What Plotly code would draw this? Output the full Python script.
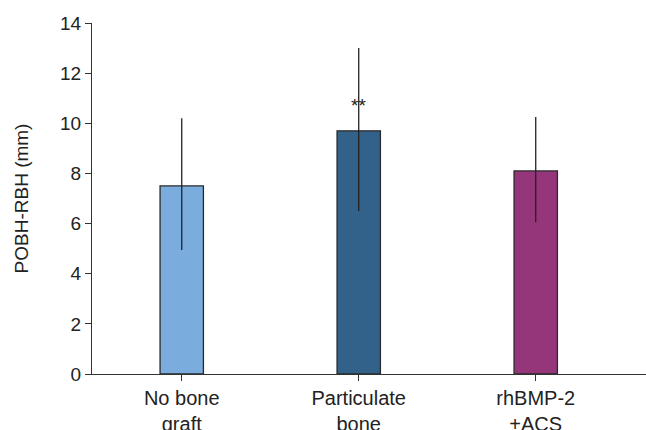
import plotly.graph_objects as go

categories = ["No bone<br>graft", "Particulate<br>bone", "rhBMP-2<br>+ACS"]
means = [7.5, 9.7, 8.1]
err_plus = [2.7, 3.3, 2.15]
err_minus = [2.55, 3.2, 2.05]
colors = ["#7AADDE", "#32628A", "#96367A"]
y_ticks = [0, 2, 4, 6, 8, 10, 12, 14]
sig_label = "**"
sig_index = 1
sig_y = 10.7

font_family = "Liberation Sans, Arial, sans-serif"

fig = go.Figure()
fig.add_trace(go.Bar(
    x=list(range(len(categories))),
    y=means,
    width=0.245,
    marker=dict(color=colors, line=dict(color="#2a2a2a", width=1.3)),
    error_y=dict(type="data", array=err_plus, arrayminus=err_minus,
                 color="#222222", thickness=1.3, width=0, visible=True),
    showlegend=False,
))

fig.add_annotation(x=sig_index, y=sig_y, text=sig_label, showarrow=False,
                   font=dict(size=19, color="#222222", family=font_family),
                   xref="x", yref="y")

fig.update_layout(
    width=646, height=430,
    margin=dict(l=92, r=0, t=23, b=56, autoexpand=False),
    paper_bgcolor="white", plot_bgcolor="white",
    font=dict(family=font_family, size=19, color="#222222"),
    xaxis=dict(
        tickmode="array", tickvals=list(range(len(categories))), ticktext=categories,
        range=[-0.507, 2.623], showline=True, linecolor="#333333", linewidth=1.3,
        ticks="outside", ticklen=6, tickcolor="#333333", tickwidth=1.3,
        showgrid=False, zeroline=False, tickfont=dict(size=20),
    ),
    yaxis=dict(
        range=[0, 14], tickvals=y_ticks, showline=True, linecolor="#333333",
        linewidth=1.3, ticks="outside", ticklen=6, tickcolor="#333333", tickwidth=1.3,
        showgrid=False, zeroline=False, tickfont=dict(size=19),
        title=dict(text="POBH-RBH (mm)", font=dict(size=19), standoff=26),
    ),
)

fig.write_html(
    "out.html",
    config={"displayModeBar": False},
    post_script="document.body.style.margin='0';document.body.style.overflow='hidden';",
)
